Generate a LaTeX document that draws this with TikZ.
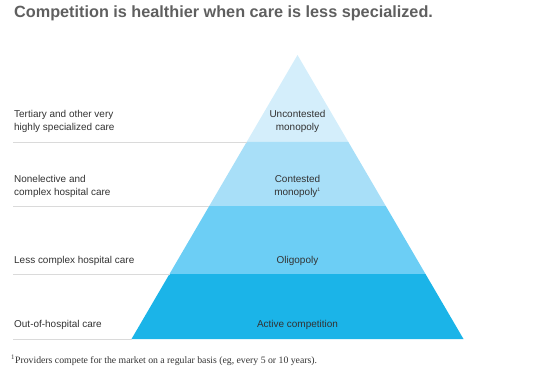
\documentclass[tikz,border=0pt]{standalone}
\usepackage{fontspec}
\setmainfont{Liberation Sans}
\newfontfamily\notefont{Liberation Serif}
\usetikzlibrary{positioning,calc}

\definecolor{bandA}{RGB}{212,238,251}
\definecolor{bandB}{RGB}{168,223,248}
\definecolor{bandC}{RGB}{108,206,245}
\definecolor{bandD}{RGB}{27,180,232}
\definecolor{rulegray}{RGB}{218,218,218}
\definecolor{titlegray}{RGB}{95,95,95}
\definecolor{textgray}{RGB}{50,50,50}

\tikzset{
  lefttext/.style={anchor=west, align=left, text=textgray, inner sep=0pt,
    font=\fontsize{10}{13}\selectfont},
  bandtext/.style={align=center, text=textgray, inner sep=0pt,
    font=\fontsize{10}{13}\selectfont},
  sepline/.style={draw=rulegray, line width=0.8pt}
}

\begin{document}
\begin{tikzpicture}[x=1bp, y=-1bp]
            \useasboundingbox (0,0) rectangle (545,387);

            % pyramid corners
            \coordinate (apex) at (297.5,55);
            \coordinate (bl) at (131.5,339);
            \coordinate (br) at (463.5,339);
            \foreach \t/\n in {0.3063/a, 0.5317/b, 0.7711/c}
            {
              \coordinate (l\n) at ($(apex)!\t!(bl)$);
              \coordinate (r\n) at ($(apex)!\t!(br)$);
            }

            % bands
            \fill[bandA] (apex) -- (ra) -- (la) -- cycle;
            \fill[bandB] (la) -- (ra) -- (rb) -- (lb) -- cycle;
            \fill[bandC] (lb) -- (rb) -- (rc) -- (lc) -- cycle;
            \fill[bandD] (lc) -- (rc) -- (br) -- (bl) -- cycle;

            % separator lines
            \foreach \n in {a,b,c}
            \draw[sepline] (13,0 |- l\n) -- (l\n);
            \draw[sepline] (13,0 |- bl) -- (bl);

            % title
            \node[anchor=west, inner sep=0pt, text=titlegray,
              font=\fontsize{16.3}{19}\bfseries\selectfont] (title) at (14,13)
              {Competition is healthier when care is less specialized.};

            % left labels
            \node[lefttext] (tertiary) at (14,121)
              {Tertiary and other very\\highly specialized care};
            \node[lefttext] (nonelective) at (14,186)
              {Nonelective and\\complex hospital care};
            \node[lefttext] (lesscomplex) at (14,261) {Less complex hospital care};
            \node[lefttext] (outhospital) at (14,325) {Out-of-hospital care};

            % band labels
            \node[bandtext] (uncontested) at (297.5,121) {Uncontested\\monopoly};
            \node[bandtext] (contested) at (297.5,186)
              {Contested\\monopoly\textsuperscript{\fontsize{5}{5}\selectfont 1}};
            \node[bandtext] (oligopoly) at (297.5,261) {Oligopoly};
            \node[bandtext] (active) at (297.5,325) {Active competition};

            % footnote
            \node[anchor=west, inner sep=0pt, text=textgray,
              font=\notefont\fontsize{9.8}{12}\selectfont] (note) at (11,360)
              {\textsuperscript{1}Providers compete for the market on a regular basis (eg, every 5 or 10 years).};
        \end{tikzpicture}
\end{document}
